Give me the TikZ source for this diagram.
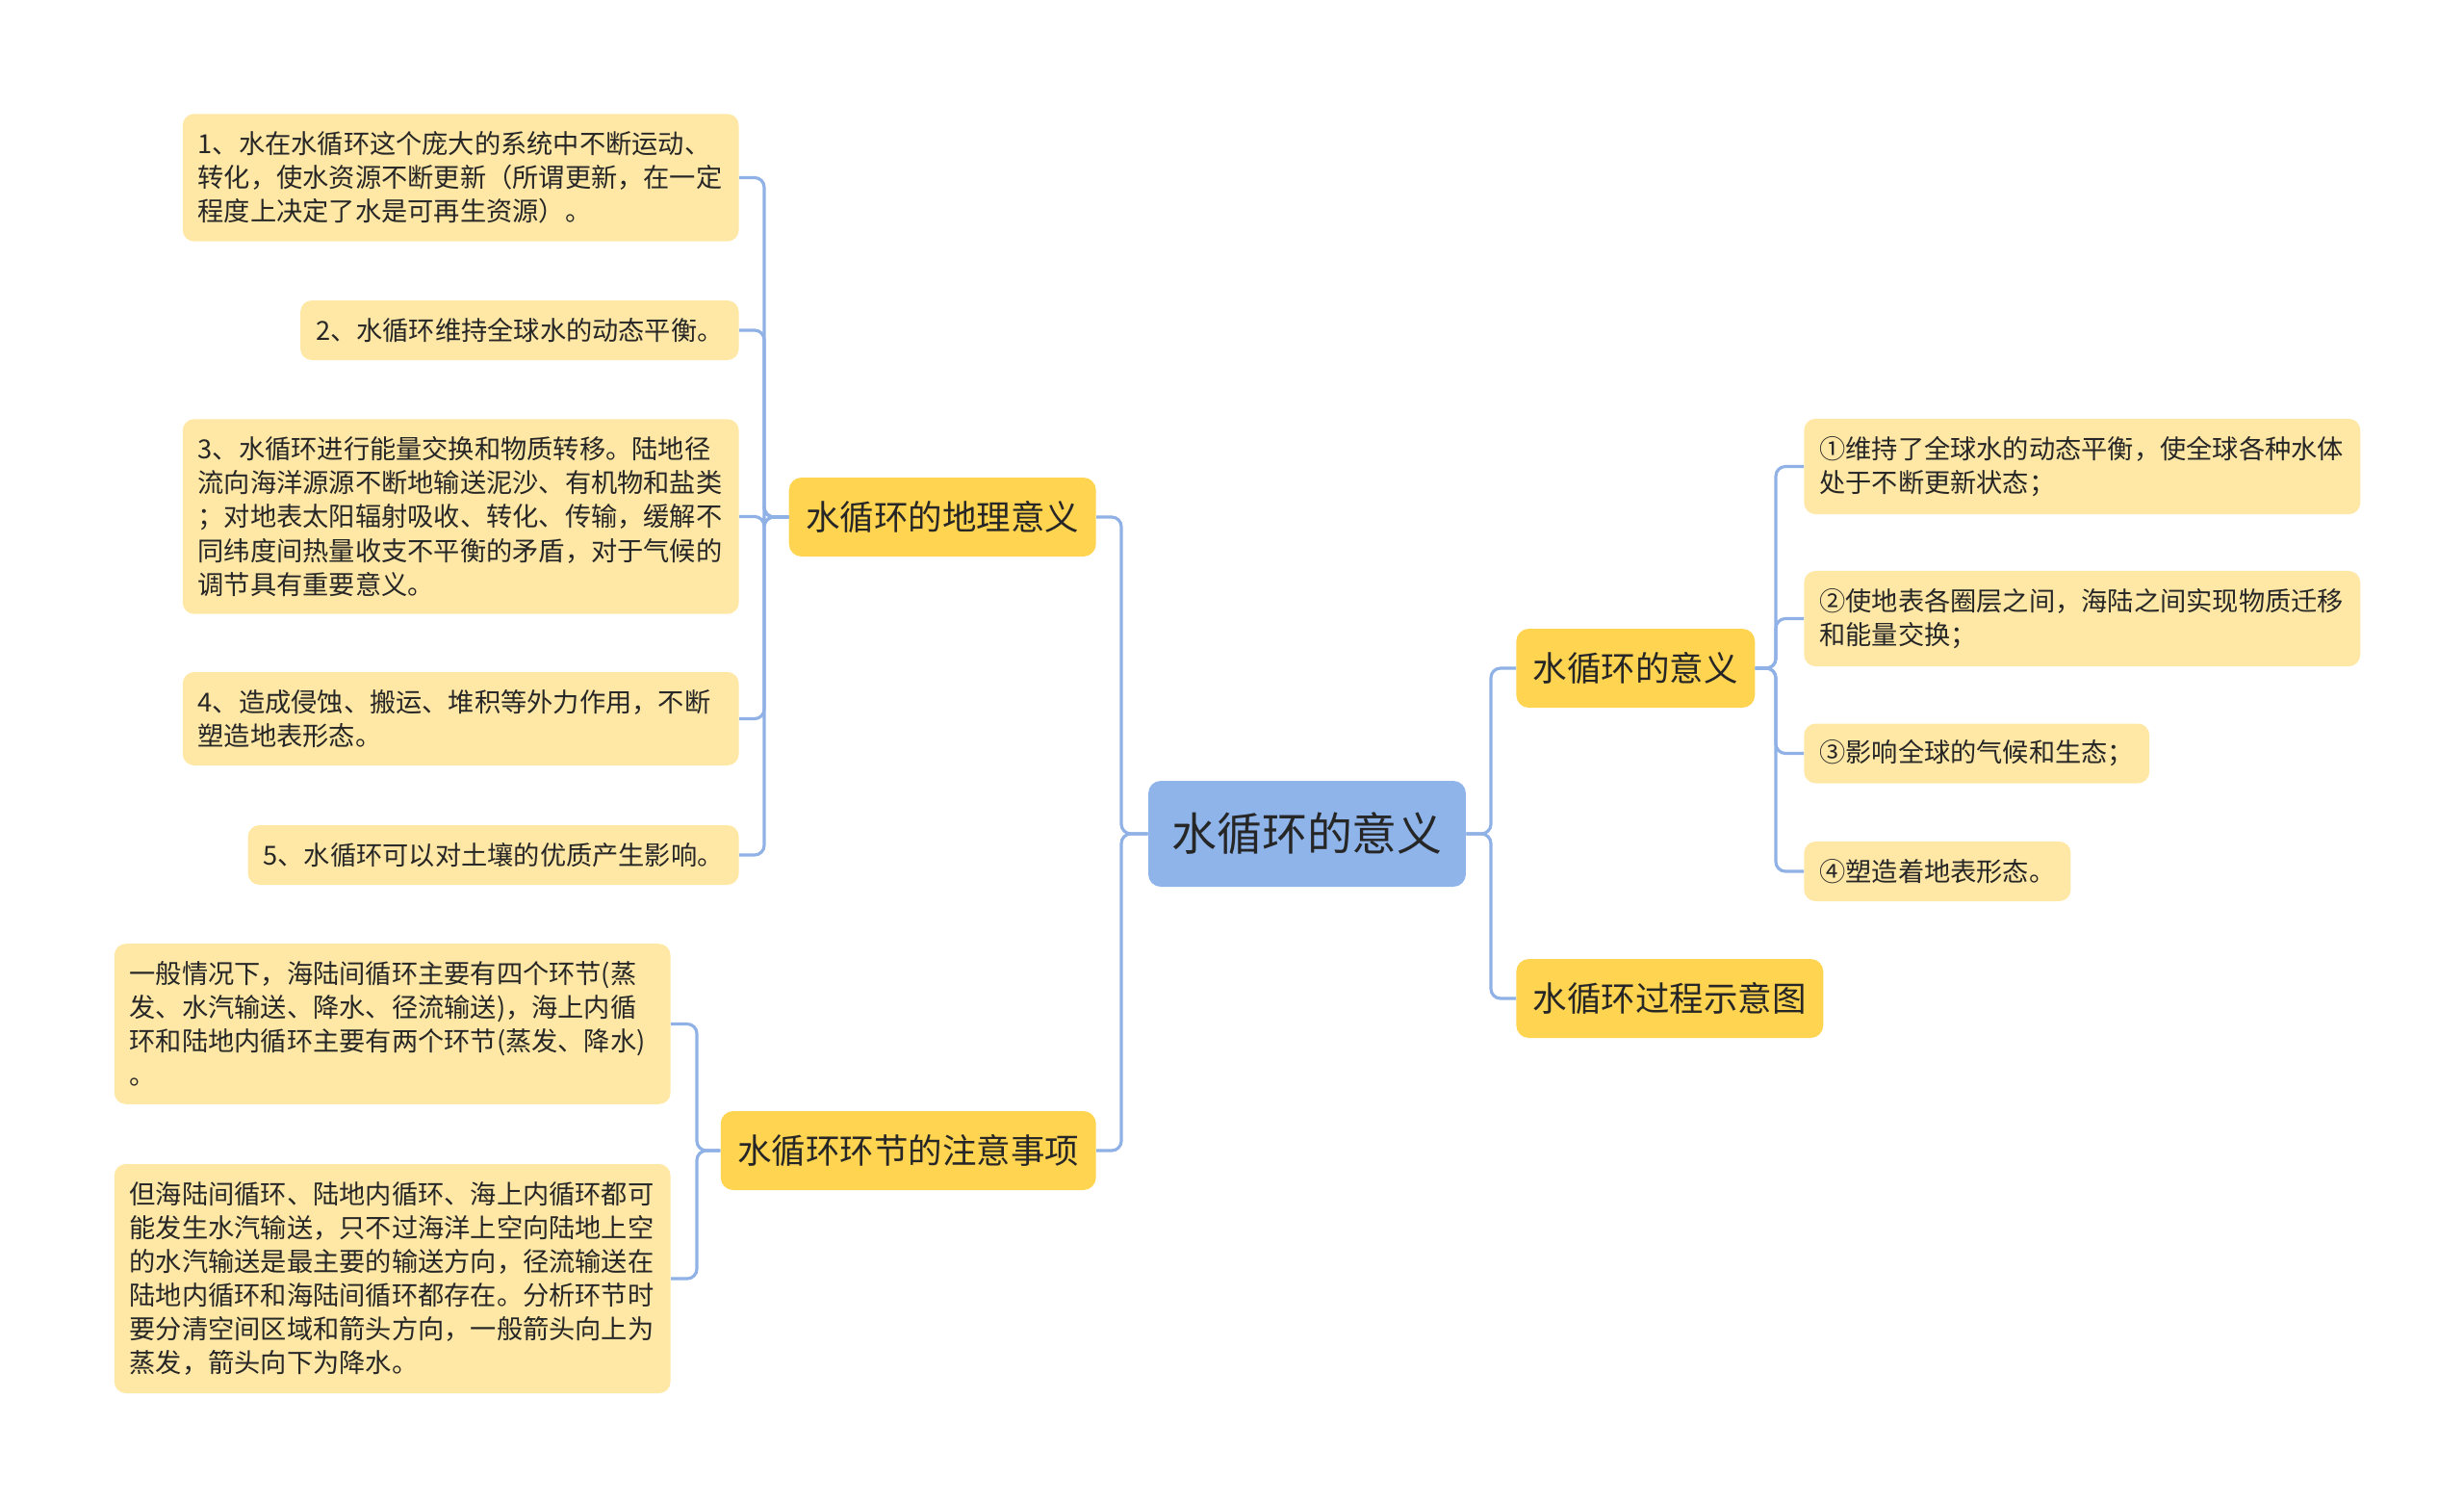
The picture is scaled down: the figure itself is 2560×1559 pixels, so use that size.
\documentclass[tikz,border=0pt]{standalone}
\usepackage{fontspec}
\setmainfont{Noto Sans CJK SC}
\usetikzlibrary{positioning}

\definecolor{linkblue}{HTML}{8FB1E6}
\definecolor{rootblue}{HTML}{8EB4EA}
\definecolor{branchyellow}{HTML}{FFD451}
\definecolor{leafyellow}{HTML}{FFE8A6}
\definecolor{textdark}{HTML}{262626}

\tikzset{
  rootbox/.style={rectangle, rounded corners=0.26cm, fill=rootblue, text=textdark,
    font=\fontsize{26.7}{32}\selectfont, minimum width=6.6cm, minimum height=2.2cm},
  branchbox/.style={rectangle, rounded corners=0.26cm, fill=branchyellow, text=textdark,
    font=\fontsize{20.2}{24}\selectfont, inner xsep=0.35cm, minimum height=1.64cm},
  leafbox/.style={rectangle, rounded corners=0.24cm, fill=leafyellow, text=textdark,
    font=\fontsize{15.5}{20}\selectfont, inner xsep=0.32cm, inner ysep=0.365cm, align=left},
  leafline/.style={leafbox, inner ysep=0cm, minimum height=1.24cm},
  leafwide/.style={leafbox, text width=10.92cm},
  link/.style={draw=linkblue, line width=1.8pt, rounded corners=0.2cm},
}

\begin{document}
\begin{tikzpicture}[x=0.02cm, y=-0.02cm]
        \useasboundingbox (0,0) rectangle (2560,1559);

        % Nodes
        \node[rootbox] (root) at (1358,866) {水循环的意义};

        \node[branchbox, anchor=east] (geo) at (1139,537) {水循环的地理意义};
        \node[branchbox, anchor=east] (note) at (1139,1195) {水循环环节的注意事项};
        \node[branchbox, anchor=west] (sig) at (1575,694) {水循环的意义};
        \node[branchbox, anchor=west] (proc) at (1575,1037) {水循环过程示意图};

        \node[leafwide, anchor=east] (geoA) at (768,184.5) {1、水在水循环这个庞大的系统中不断运动、\\转化，使水资源不断更新（所谓更新，在一定\\程度上决定了水是可再生资源）。};
        \node[leafline, anchor=east] (geoB) at (768,343) {2、水循环维持全球水的动态平衡。};
        \node[leafwide, anchor=east] (geoC) at (768,536.5) {3、水循环进行能量交换和物质转移。陆地径\\流向海洋源源不断地输送泥沙、有机物和盐类\\；对地表太阳辐射吸收、转化、传输，缓解不\\同纬度间热量收支不平衡的矛盾，对于气候的\\调节具有重要意义。};
        \node[leafwide, anchor=east] (geoD) at (768,746.5) {4、造成侵蚀、搬运、堆积等外力作用，不断\\塑造地表形态。};
        \node[leafline, anchor=east] (geoE) at (768,888) {5、水循环可以对土壤的优质产生影响。};

        \node[leafwide, anchor=east] (noteA) at (697,1063.5) {一般情况下，海陆间循环主要有四个环节(蒸\\发、水汽输送、降水、径流输送)，海上内循\\环和陆地内循环主要有两个环节(蒸发、降水)\\。};
        \node[leafwide, anchor=east] (noteB) at (697,1328) {但海陆间循环、陆地内循环、海上内循环都可\\能发生水汽输送，只不过海洋上空向陆地上空\\的水汽输送是最主要的输送方向，径流输送在\\陆地内循环和海陆间循环都存在。分析环节时\\要分清空间区域和箭头方向，一般箭头向上为\\蒸发，箭头向下为降水。};

        \node[leafwide, anchor=west] (sigA) at (1874,484.5) {①维持了全球水的动态平衡，使全球各种水体\\处于不断更新状态；};
        \node[leafwide, anchor=west] (sigB) at (1874,642.5) {②使地表各圈层之间，海陆之间实现物质迁移\\和能量交换；};
        \node[leafline, anchor=west] (sigC) at (1874,782.5) {③影响全球的气候和生态；};
        \node[leafline, anchor=west] (sigD) at (1874,905) {④塑造着地表形态。};

        % Bracket columns
        \coordinate (rootL) at (1165,0);
        \coordinate (rootR) at (1549,0);
        \coordinate (geoJ) at (794,0);
        \coordinate (noteJ) at (724,0);
        \coordinate (sigJ) at (1845,0);

        % Lines
        \draw[link] (root.west) -- (root.west -| rootL) |- (geo.east);
        \draw[link] (root.west) -- (root.west -| rootL) |- (note.east);
        \draw[link] (root.east) -- (root.east -| rootR) |- (sig.west);
        \draw[link] (root.east) -- (root.east -| rootR) |- (proc.west);

        \draw[link] (geo.west) -- (geo.west -| geoJ) |- (geoA.east);
        \draw[link] (geo.west) -- (geo.west -| geoJ) |- (geoB.east);
        \draw[link] (geo.west) -- (geo.west -| geoJ) |- (geoC.east);
        \draw[link] (geo.west) -- (geo.west -| geoJ) |- (geoD.east);
        \draw[link] (geo.west) -- (geo.west -| geoJ) |- (geoE.east);

        \draw[link] (note.west) -- (note.west -| noteJ) |- (noteA.east);
        \draw[link] (note.west) -- (note.west -| noteJ) |- (noteB.east);

        \draw[link] (sig.east) -- (sig.east -| sigJ) |- (sigA.west);
        \draw[link] (sig.east) -- (sig.east -| sigJ) |- (sigB.west);
        \draw[link] (sig.east) -- (sig.east -| sigJ) |- (sigC.west);
        \draw[link] (sig.east) -- (sig.east -| sigJ) |- (sigD.west);

    \end{tikzpicture}
\end{document}
